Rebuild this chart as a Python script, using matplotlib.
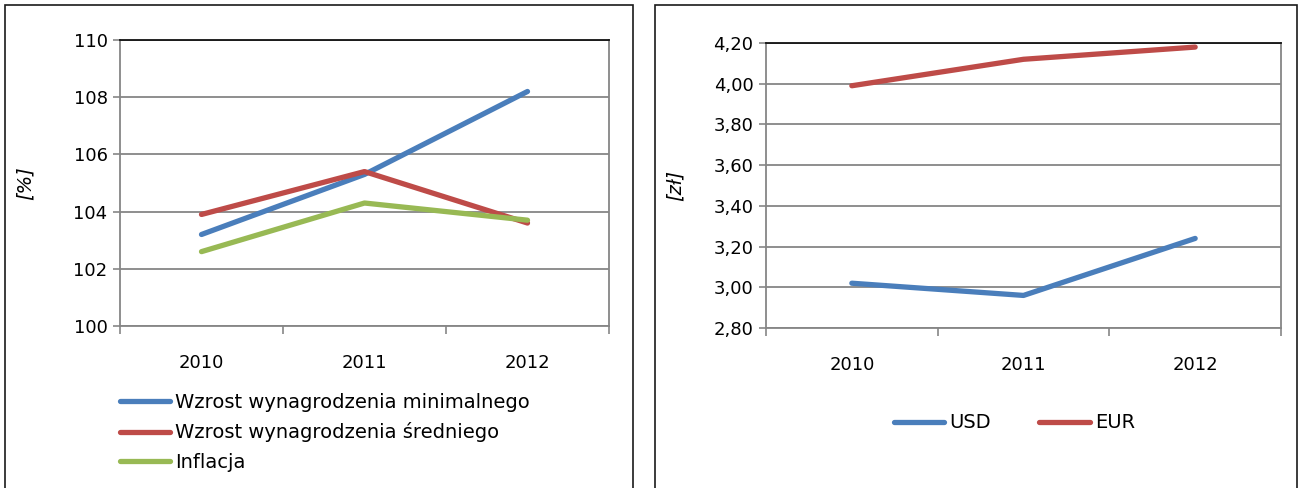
import matplotlib
matplotlib.use("Agg")
import matplotlib.pyplot as plt
import matplotlib.patches as mpatches

years = ["2010", "2011", "2012"]
wzrost_min = [103.2, 105.3, 108.2]
wzrost_sr = [103.9, 105.4, 103.6]
inflacja = [102.6, 104.3, 103.7]
usd = [3.02, 2.96, 3.24]
eur = [3.99, 4.12, 4.18]

left_yticks = [100, 102, 104, 106, 108, 110]
right_yticks = [2.8, 3.0, 3.2, 3.4, 3.6, 3.8, 4.0, 4.2]
right_ylabels = ["2,80", "3,00", "3,20", "3,40", "3,60", "3,80", "4,00", "4,20"]

BLUE = "#4A7EBB"
RED = "#BE4B48"
GREEN = "#98B954"
GRID = "#868686"

plt.rcParams["font.family"] = ["DejaVu Sans"]

W, H = 1299, 488
fig = plt.figure(figsize=(W / 100, H / 100), dpi=100)
fig.patch.set_facecolor("white")

# panel frames
for x0, x1 in [(5, 633), (655, 1297)]:
    fig.patches.append(mpatches.Rectangle((x0 / W, -0.05), (x1 - x0) / W, 1.05 - 5 / H,
                                          transform=fig.transFigure, fill=False,
                                          edgecolor="#1a1a1a", linewidth=1.2))


def style_axes(ax, yticks, ylabels, ylim):
    xs = range(len(years))
    ax.set_xlim(-0.5, len(years) - 0.5)
    ax.set_ylim(*ylim)
    ax.set_yticks(yticks)
    ax.set_yticklabels(ylabels)
    ax.set_xticks([-0.5, 0.5, 1.5, 2.5])
    ax.set_xticklabels([])
    ax.set_xticks(list(xs), minor=True)
    ax.set_xticklabels(years, minor=True)
    ax.tick_params(axis="x", which="major", length=6, width=1.2, color=GRID, direction="out")
    ax.tick_params(axis="x", which="minor", length=0, pad=20, labelsize=13)
    ax.tick_params(axis="y", length=5, width=1.2, color=GRID, pad=4, labelsize=13)
    ax.yaxis.grid(True, color=GRID, linewidth=1.3)
    ax.set_axisbelow(True)
    for s in ["left", "bottom", "right"]:
        ax.spines[s].set_color(GRID)
        ax.spines[s].set_linewidth(1.3)
    ax.spines["top"].set_color("#111111")
    ax.spines["top"].set_linewidth(1.3)


# left chart
ax1 = fig.add_axes([120 / W, 1 - 326 / H, (609 - 120) / W, 286 / H])
style_axes(ax1, left_yticks, [str(v) for v in left_yticks], (100, 110))
x = range(len(years))
ax1.plot(x, wzrost_min, color=BLUE, lw=3.8, solid_capstyle="round", label="Wzrost wynagrodzenia minimalnego")
ax1.plot(x, wzrost_sr, color=RED, lw=3.8, solid_capstyle="round", label="Wzrost wynagrodzenia średniego")
ax1.plot(x, inflacja, color=GREEN, lw=3.8, solid_capstyle="round", label="Inflacja")
ax1.set_ylabel("[%]", fontsize=14, style="italic")
ax1.yaxis.set_label_coords(-0.175, 0.5)
fig.legend(handles=ax1.get_lines(), loc="upper left", bbox_to_anchor=(110 / W, 1 - 383 / H),
           frameon=False, fontsize=14, handlelength=2.6, handletextpad=0.25,
           labelspacing=0.55, borderpad=0)

# right chart
ax2 = fig.add_axes([766 / W, 1 - 328 / H, (1281 - 766) / W, 285 / H])
style_axes(ax2, right_yticks, right_ylabels, (2.8, 4.2))
ax2.plot(x, usd, color=BLUE, lw=3.8, solid_capstyle="round", label="USD")
ax2.plot(x, eur, color=RED, lw=3.8, solid_capstyle="round", label="EUR")
ax2.set_ylabel("[zł]", fontsize=14, style="italic")
ax2.yaxis.set_label_coords(-0.157, 0.5)
fig.legend(handles=ax2.get_lines(), loc="center left", bbox_to_anchor=(884 / W, 1 - 423 / H),
           frameon=False, fontsize=14, ncol=2, handlelength=2.6, handletextpad=0.25,
           columnspacing=2.5, borderpad=0)

fig.savefig("out.png", dpi=100, facecolor="white")
